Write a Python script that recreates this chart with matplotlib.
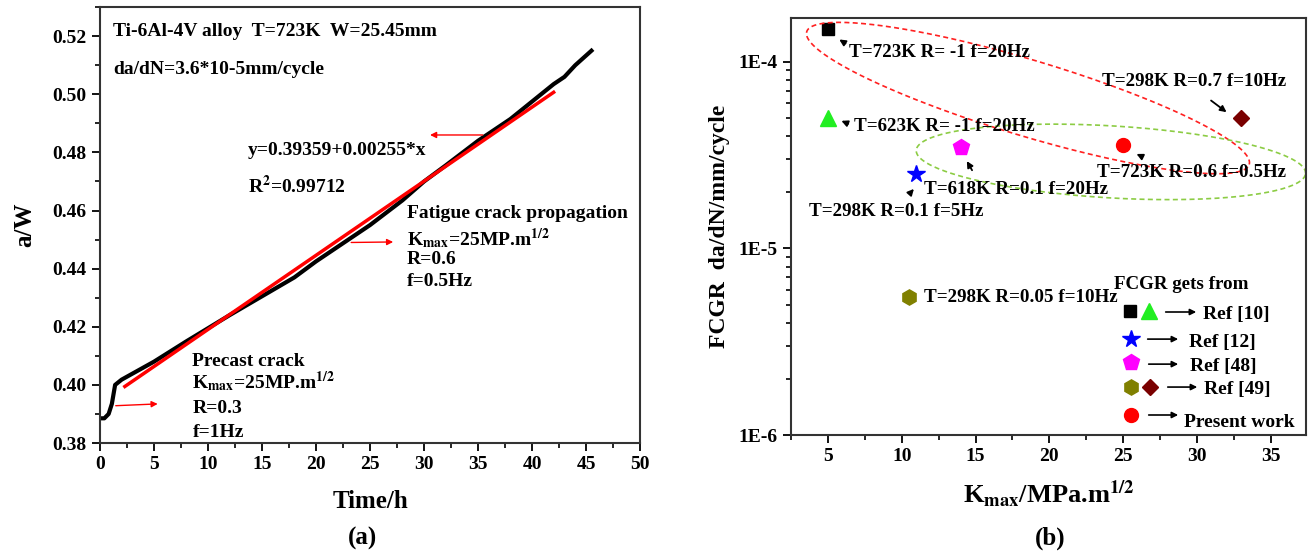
import matplotlib
matplotlib.use('Agg')
import matplotlib.pyplot as plt
import numpy as np

plt.rcParams['font.family'] = ['Liberation Serif', 'DejaVu Serif']
plt.rcParams['font.weight'] = 'bold'
plt.rcParams['axes.labelweight'] = 'bold'
plt.rcParams['mathtext.fontset'] = 'stix'
plt.rcParams['mathtext.default'] = 'bf'

# (a) crack length vs time
time_h = [0, 0.4, 0.8, 1.1, 1.4, 2, 5, 8, 10, 12, 15, 18, 20, 25, 28, 30, 32, 35, 38, 40, 42, 43, 44, 45.5]
a_over_w = [0.3885, 0.3885, 0.3900, 0.3935, 0.4000, 0.4018, 0.4080, 0.4150, 0.4195, 0.4240,
            0.4305, 0.4370, 0.4425, 0.4550, 0.4635, 0.4700, 0.4755, 0.4840, 0.4915, 0.4975,
            0.5035, 0.5060, 0.5100, 0.5150]
fit_a, fit_b = 0.39359, 0.00255
fit_range = [2.3, 42]

# (b) FCGR comparison
kmax = [5, 5, 11, 14, 10.5, 33, 25]
fcgr = [1.5e-4, 5.0e-5, 2.5e-5, 3.5e-5, 5.5e-6, 5.0e-5, 3.6e-5]
markers = ['s', '^', '*', 'p', 'h', 'D', 'o']
colors = ['#000000', '#22ee22', '#0000ff', '#ff00ff', '#808000', '#7a0000', '#ff0000']
sizes = [9, 11, 13, 12, 11, 8, 10]
legend_refs = ['Ref [10]', 'Ref [12]', 'Ref [48]', 'Ref [49]', 'Present work']

fig = plt.figure(figsize=(13.14, 5.56), dpi=100)

# ---------------- (a) ----------------
ax1 = fig.add_axes([0.0761, 0.2032, 0.411, 0.784])
ax1.plot(time_h, a_over_w, color='black', lw=3)
xf = np.array(fit_range)
ax1.plot(xf, fit_a + fit_b * xf, color='red', lw=2.5)
ax1.set_xlim(0, 50)
ax1.set_ylim(0.38, 0.5296)
ax1.set_xticks(np.arange(0, 51, 5))
ax1.set_xticks(np.arange(2.5, 50, 5), minor=True)
ax1.set_yticks(np.arange(0.38, 0.521, 0.02))
ax1.set_yticks(np.arange(0.39, 0.53, 0.02), minor=True)
ax1.yaxis.set_major_formatter(matplotlib.ticker.FormatStrFormatter('%.2f'))
ax1.tick_params(which='major', direction='out', length=6, width=1.3, labelsize=14)
ax1.tick_params(which='minor', direction='out', length=3.5, width=1.2)
for s in ax1.spines.values():
    s.set_linewidth(1.5)
    s.set_color('#333333')
ax1.set_xlabel('Time/h', fontsize=18, labelpad=12)
ax1.set_ylabel('a/W', fontsize=18, labelpad=12)

tkw = dict(fontsize=14, fontweight='bold', va='center', ha='left')
ax1.text(1.2, 0.5217, 'Ti-6Al-4V alloy  T=723K  W=25.45mm', **tkw)
ax1.text(1.2, 0.5087, 'da/dN=3.6*10-5mm/cycle', **tkw)
ax1.text(13.7, 0.4805, 'y=0.39359+0.00255*x', **tkw)
ax1.text(13.7, 0.4685, r'R$^{2}$=0.99712', **tkw)
ax1.text(28.4, 0.4590, 'Fatigue crack propagation', **tkw)
ax1.text(28.4, 0.4505, r'K$_{\mathbf{max}}$=25MP.m$^{\mathbf{1/2}}$', **tkw)
ax1.text(28.4, 0.4433, 'R=0.6', **tkw)
ax1.text(28.4, 0.4355, 'f=0.5Hz', **tkw)
ax1.text(8.55, 0.4082, 'Precast crack', **tkw)
ax1.text(8.55, 0.4010, r'K$_{\mathbf{max}}$=25MP.m$^{\mathbf{1/2}}$', **tkw)
ax1.text(8.55, 0.3920, 'R=0.3', **tkw)
ax1.text(8.55, 0.3835, 'f=1Hz', **tkw)

akw = dict(arrowstyle='-|>', color='red', lw=1, mutation_scale=9)
ax1.annotate('', xy=(5.6, 0.3935), xytext=(1.2, 0.3928), arrowprops=akw)
ax1.annotate('', xy=(30.3, 0.486), xytext=(35.7, 0.486), arrowprops=akw)
ax1.annotate('', xy=(27.4, 0.4492), xytext=(23.0, 0.4490), arrowprops=akw)

fig.text(0.276, 0.032, '(a)', fontsize=18, ha='center', va='center')

# ---------------- (b) ----------------
ax2 = fig.add_axes([0.602, 0.2176, 0.392, 0.750])
for x, y, m, c, s in zip(kmax, fcgr, markers, colors, sizes):
    ax2.plot(x, y, marker=m, color=c, ms=s, ls='none')
ax2.set_yscale('log')
ax2.set_xlim(2.57, 37.4)
ax2.set_ylim(1e-6, 1.72e-4)
ax2.set_xticks(np.arange(5, 36, 5))
ax2.set_xticks(np.arange(2.5, 37.5, 2.5), minor=True)
ax2.set_yticks([1e-6, 1e-5, 1e-4])
ax2.set_yticklabels(['1E-6', '1E-5', '1E-4'])
ax2.yaxis.set_minor_formatter(matplotlib.ticker.NullFormatter())
ax2.tick_params(which='major', direction='out', length=6, width=1.3, labelsize=14)
ax2.tick_params(which='minor', direction='out', length=3.5, width=1.2)
for s in ax2.spines.values():
    s.set_linewidth(1.5)
    s.set_color('#333333')
ax2.set_xlabel(r'K$_{\mathbf{max}}$/MPa.m$^{\mathbf{1/2}}$', fontsize=19, labelpad=10)
ax2.set_ylabel('FCGR  da/dN/mm/cycle', fontsize=17, labelpad=6)

rkw = dict(tkw, fontsize=13.7)
ax2.text(6.42, 1.117e-4, 'T=723K R= -1 f=20Hz', **rkw)
ax2.text(6.76, 4.49e-5, 'T=623K R= -1 f=20Hz', **rkw)
ax2.text(11.49, 2.07e-5, 'T=618K R=0.1 f=20Hz', **rkw)
ax2.text(3.72, 1.58e-5, 'T=298K R=0.1 f=5Hz', **rkw)
ax2.text(23.58, 7.82e-5, 'T=298K R=0.7 f=10Hz', **rkw)
ax2.text(23.24, 2.55e-5, 'T=723K R=0.6 f=0.5Hz', **rkw)
ax2.text(11.49, 5.47e-6, 'T=298K R=0.05 f=10Hz', **rkw)

bkw = dict(arrowstyle='-|>', color='black', lw=1.3, mutation_scale=9)
ax2.annotate('', xy=(5.61, 1.344e-4), xytext=(6.35, 1.233e-4), arrowprops=bkw)
ax2.annotate('', xy=(5.74, 4.90e-5), xytext=(6.55, 4.60e-5), arrowprops=bkw)
ax2.annotate('', xy=(10.95, 2.14e-5), xytext=(10.47, 1.94e-5), arrowprops=bkw)
ax2.annotate('', xy=(14.32, 3.03e-5), xytext=(14.86, 2.55e-5), arrowprops=bkw)
ax2.annotate('', xy=(32.16, 5.27e-5), xytext=(30.81, 6.34e-5), arrowprops=bkw)
ax2.annotate('', xy=(25.74, 3.26e-5), xytext=(26.42, 3.07e-5), arrowprops=bkw)

# dashed ellipses, drawn in pixel space so the tilt is right
aw, ah = 0.392 * 1314, 0.750 * 556
def ellipse(cx, cy, a, b, ang, color):
    t = np.linspace(0, 2 * np.pi, 300)
    th = np.radians(ang)
    px = a * np.cos(t) * np.cos(th) - b * np.sin(t) * np.sin(th)
    py = a * np.cos(t) * np.sin(th) + b * np.sin(t) * np.cos(th)
    ax2.plot(cx + px / aw, cy + py / ah, transform=ax2.transAxes,
             color=color, ls=(0, (3, 2)), lw=1.2, clip_on=False)

ellipse(0.460, 0.808, 231, 38, -16.7, '#ff2020')
ellipse(0.621, 0.655, 195, 36, -3.4, '#8ccc44')

# legend block
ax2.text(0.757, 0.360, 'FCGR gets from', transform=ax2.transAxes, fontsize=13.7, ha='center', va='center')
leg_pos = [(0.658, 0.297), (0.695, 0.297), (0.660, 0.230), (0.660, 0.175),
           (0.660, 0.115), (0.697, 0.115), (0.660, 0.048)]
for (x, y), m, c, s in zip(leg_pos, markers, colors, sizes):
    ax2.plot(x, y, marker=m, color=c, ms=s, transform=ax2.transAxes)
arrow_rows = [(0.722, 0.792, 0.295), (0.687, 0.757, 0.230), (0.689, 0.757, 0.170),
              (0.726, 0.794, 0.115), (0.689, 0.757, 0.048)]
text_pos = [(0.800, 0.288), (0.773, 0.223), (0.775, 0.165), (0.802, 0.108), (0.763, 0.029)]
for (x0, x1, y), (tx, ty), lab in zip(arrow_rows, text_pos, legend_refs):
    ax2.annotate('', xy=(x1, y), xytext=(x0, y), xycoords='axes fraction',
                 arrowprops=dict(arrowstyle='-|>', color='black', lw=1.2, mutation_scale=9))
    ax2.text(tx, ty, lab, transform=ax2.transAxes, fontsize=14, ha='left', va='center')

fig.text(0.799, 0.032, '(b)', fontsize=18, ha='center', va='center')

fig.savefig('out.png', dpi=100)
